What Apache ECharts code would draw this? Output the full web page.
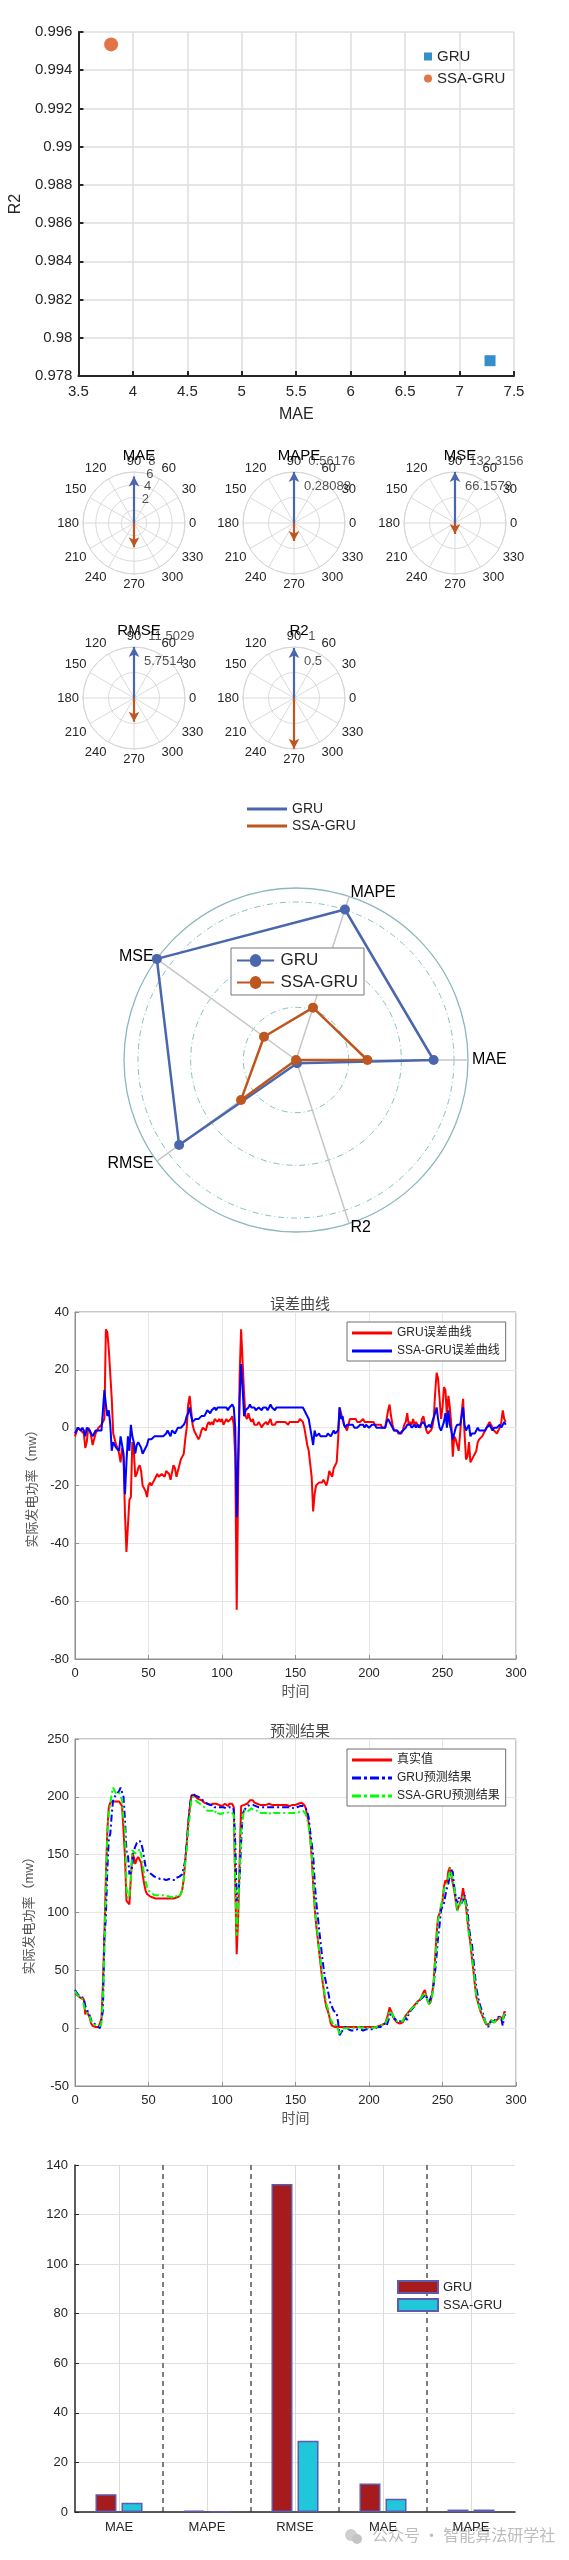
<!DOCTYPE html>
<html>
<head>
<meta charset="utf-8">
<title>GRU vs SSA-GRU</title>
<script src="https://cdn.jsdelivr.net/npm/echarts@6/dist/echarts.min.js"></script>
<style>
  body { margin: 0; background: #fff; }
  .panel { position: absolute; left: 0; width: 569px; }
</style>
</head>
<body>
<div id="scatter" class="panel" style="top:0;height:440px"></div>
<div id="compass" class="panel" style="top:440px;height:330px"></div>
<div id="radar" class="panel" style="top:780px;height:500px"></div>
<div id="error" class="panel" style="top:1280px;height:435px"></div>
<div id="pred" class="panel" style="top:1715px;height:420px"></div>
<div id="bars" class="panel" style="top:2140px;height:420px"></div>
<script>
  // metrics of the two models
  const metricNames = ['MAE', 'MAPE', 'MSE', 'RMSE', 'R2']
  const gruMetrics = [7.28, 0.56176, 132.3156, 11.5029, 0.9788]
  const ssaMetrics = [3.80, 0.198, 28.7, 5.357, 0.99535]
  // compass rings: outer value, step and the printed ring labels
  const ringMax = [8, 0.56176, 132.3156, 11.5029, 1]
  const ringStep = [2, 0.28088, 66.1578, 5.75145, 0.5]
  const ringTicks = [[2, 4, 6, 8], [0.28088, 0.56176], [66.1578, 132.3156], [5.7514, 11.5029], [0.5, 1]]
  // radar (normalised)
  const radarGru = [0.80, 0.92, 1.0, 0.84, 0.02]
  const radarSsa = [0.415, 0.32, 0.23, 0.395, 0.0]
  // bar chart
  const barCats = ['MAE', 'MAPE', 'RMSE', 'MAE', 'MAPE']
  const barGru = [7.2, 0.56, 132.3, 11.5, 0.98]
  const barSsa = [3.7, 0.2, 28.7, 5.36, 0.99]

  // error curves (true - predicted)
  const errGru = [-3,-3,0,0,-1,-1,-2,-7,-5,0,
    -1,-3,-6,-4,-2,-1,0,0,1,1,
    3,34,33,27,27,10,-2,-4,-6,-7,
    -9,-12,-7,-10,-30,-43,-43,-25,-24,-5,
    -8,-17,-16,-14,-13,-15,-20,-21,-22,-24,
    -20,-19,-20,-19,-18,-18,-16,-17,-17,-16,
    -16,-17,-15,-15,-16,-18,-18,-13,-14,-17,
    -17,-13,-11,-10,-9,-4,0,8,11,6,
    1,-1,-2,-3,-4,-3,-1,0,0,-1,
    1,2,1,2,1,3,3,2,3,2,
    3,1,2,3,2,2,3,4,1,-10,
    -63,-20,18,34,34,12,4,3,5,3,
    2,3,1,1,1,2,2,0,1,1,
    2,1,1,3,1,1,1,2,2,2,
    2,2,2,2,2,1,2,2,2,2,
    2,2,2,3,3,2,0,-3,-6,-8,
    -8,-17,-29,-23,-20,-20,-19,-19,-19,-18,
    -19,-20,-18,-15,-16,-17,-14,-13,-12,-4,
    7,5,3,1,0,-1,1,3,3,3,
    3,3,2,2,2,2,3,2,2,2,
    2,2,2,2,1,1,1,1,1,0,
    0,0,3,6,8,4,1,-1,-1,-1,
    -2,-2,-2,-1,1,2,5,1,2,1,
    3,1,2,1,1,0,3,4,4,-1,
    -2,-2,-1,0,3,12,19,17,10,3,
    7,14,13,4,11,7,1,-10,-3,-4,
    -6,-8,-2,5,10,-2,-11,-10,-5,-12,
    -12,-10,-9,-8,-5,-4,-4,-3,-3,-1,
    0,1,2,1,0,-1,-1,-2,-1,0,
    2,6,3,2]
  const errSsa = [-2,-1,0,0,-1,0,-1,-3,0,0,
    -1,-2,-3,-2,-1,-1,-1,-1,-1,-1,
    13,8,4,6,1,-8,-5,-6,-7,-7,
    -8,-3,-6,-9,-23,-12,-3,-8,1,-3,
    -5,-9,-6,-5,-6,-7,-9,-8,-8,-6,
    -4,-4,-4,-4,-3,-3,-3,-3,-3,-3,
    -3,-3,-2,-1,-2,-3,-1,-1,-2,-1,
    0,0,0,0,1,2,4,5,7,4,
    2,2,3,3,3,3,4,4,4,5,
    6,6,5,6,6,7,6,7,7,7,
    7,7,7,7,6,7,7,8,7,0,
    -31,-10,10,22,14,4,6,6,7,8,
    7,7,7,6,6,7,7,6,7,7,
    7,6,7,8,7,7,6,7,7,7,
    7,7,7,7,7,7,7,7,7,7,
    7,7,7,7,7,7,6,5,4,3,
    0,-3,-6,-1,-3,-3,-2,-3,-3,-3,
    -3,-3,-2,-2,-3,-3,-1,-2,-2,-1,
    7,3,4,1,0,1,1,1,1,1,
    0,0,0,0,1,1,1,0,1,1,
    0,0,1,1,1,0,0,0,0,0,
    0,0,2,3,3,1,0,-1,-1,-1,
    -1,-2,-2,-1,-1,0,1,1,1,0,
    0,1,0,1,0,1,1,2,2,0,
    0,1,0,2,2,5,7,3,0,-1,
    -1,2,5,0,6,1,-1,-4,-2,0,
    1,1,1,4,7,1,-1,0,1,-3,
    -2,-2,-2,-1,0,-1,-1,-1,-1,-1,
    0,0,1,0,-1,0,0,0,0,1,
    0,1,2,1]

  // prediction curves
  const realVals = [30,29,28,27,26,25,25,12,15,12,
    9,4,2,1,1,1,1,2,8,38,
    81,130,171,191,195,195,196,197,196,196,
    196,197,192,171,148,110,109,107,130,151,
    148,142,146,148,149,143,133,125,119,116,
    115,114,113,113,112,112,112,112,112,112,
    112,112,112,112,112,112,112,112,113,113,
    113,114,116,120,129,145,159,177,190,200,
    202,201,200,199,198,198,197,196,195,195,
    194,194,193,193,194,193,194,193,193,192,
    192,193,194,193,192,194,195,194,191,125,
    64,96,145,192,193,193,193,194,195,197,
    197,197,195,195,194,194,193,193,193,193,
    193,193,194,193,193,193,193,193,193,193,
    193,193,193,193,193,193,192,193,193,193,
    193,193,194,194,195,195,193,190,184,177,
    165,148,125,105,90,79,67,56,44,35,
    25,18,15,10,4,2,1,1,1,1,
    1,1,1,1,1,1,1,1,1,1,
    1,1,1,1,1,1,1,1,1,1,
    1,1,1,1,1,1,2,2,2,3,
    3,4,5,12,18,17,12,8,7,5,
    4,4,5,5,8,11,12,14,15,17,
    18,20,21,23,24,25,28,31,33,28,
    23,21,23,30,41,61,82,96,99,105,
    110,122,128,125,136,139,138,125,119,110,
    102,105,108,113,121,113,105,93,82,73,
    61,50,38,27,23,18,14,11,8,5,
    3,2,4,7,7,5,6,7,8,10,
    10,8,14,14]
  const gruPred = [33,32,29,28,27,26,26,19,17,13,
    11,7,6,4,3,2,1,0,1,15,
    78,96,138,164,168,185,198,200,202,203,
    205,208,204,200,180,153,150,133,135,140,
    153,157,160,161,162,160,155,147,140,137,
    135,134,133,132,131,130,130,130,129,129,
    129,129,128,128,129,130,128,127,128,130,
    130,131,132,133,134,145,160,175,190,200,
    203,202,201,200,200,199,198,197,196,195,
    194,193,193,192,193,191,191,191,191,191,
    190,191,191,190,190,191,191,191,189,160,
    110,115,130,160,185,188,190,192,192,193,
    194,193,192,192,191,191,191,191,190,191,
    191,191,191,191,191,191,191,191,191,191,
    191,191,191,191,191,191,191,191,191,190,
    191,191,191,192,192,192,192,190,187,182,
    170,160,150,128,110,99,86,75,63,53,
    44,38,33,26,20,18,15,14,13,5,
    -6,-4,-2,0,1,2,-1,-2,-2,-2,
    -2,-2,-1,-1,-1,-1,-2,-1,-1,-1,
    -1,-1,-1,-1,0,0,1,1,1,3,
    3,4,2,6,10,13,11,9,8,6,
    6,6,7,6,7,9,7,13,13,16,
    15,19,19,22,23,25,25,27,29,29,
    25,23,24,30,38,49,63,79,89,102,
    103,108,115,121,125,132,137,135,122,114,
    108,113,110,108,111,115,116,103,87,78,
    73,60,47,35,28,22,18,14,11,6,
    3,1,2,6,7,6,7,9,9,10,
    8,2,11,12]
  const ssaPred = [32,30,28,27,27,25,26,15,15,12,
    10,6,5,3,2,2,2,2,4,25,
    68,122,167,185,194,203,208,205,203,203,
    204,200,198,180,171,122,112,115,129,154,
    153,151,152,153,155,150,142,133,127,122,
    119,118,117,117,115,115,115,115,115,115,
    115,115,114,113,114,115,113,113,115,114,
    113,114,116,120,128,143,155,172,183,196,
    200,199,197,196,195,195,193,192,191,190,
    188,188,188,187,188,186,188,186,186,185,
    185,186,187,186,186,187,188,186,184,125,
    80,106,135,170,179,189,187,188,188,189,
    190,190,188,189,188,187,186,187,186,186,
    186,187,187,185,186,186,187,186,186,186,
    186,186,186,186,186,186,185,186,186,186,
    186,186,187,187,188,188,187,185,180,174,
    165,151,131,106,93,82,69,59,47,38,
    28,21,17,12,7,5,2,3,3,2,
    -6,-2,-3,0,1,0,0,0,0,0,
    1,1,1,1,0,0,0,1,0,0,
    1,1,0,0,0,1,2,2,2,3,
    3,4,3,9,15,16,12,9,8,6,
    5,6,7,6,9,11,11,13,14,17,
    18,19,21,22,24,24,27,29,31,28,
    23,20,23,28,39,56,75,93,99,106,
    111,120,123,125,130,138,139,129,121,110,
    101,104,107,109,114,112,106,93,81,76,
    63,52,40,28,23,19,15,12,9,6,
    3,2,3,7,8,5,6,7,8,9,
    10,7,12,13]

  const FONT = "'Liberation Sans', Arial, 'Noto Sans CJK SC', sans-serif"
  const INK = '#262626'
  const GRU_C = '#4A66AC'
  const SSA_C = '#BE561F'
  // legend glyphs: plain line, dash-dot line
  const SOLID_ICON = 'path://M0,0h40v3H0z'
  const DASHDOT_ICON = 'path://M0,0h9v3H0z M12,0h3v3h-3z M18,0h9v3h-9z M30,0h3v3h-3z M36,0h4v3h-4z'

  const withIndex = arr => arr.map((v, i) => [i, v])

  // ---------- scatter MAE vs R2 ----------
  const scatterChart = echarts.init(document.getElementById('scatter'))
  scatterChart.setOption({
    animation: false,
    textStyle: {fontFamily: FONT},
    grid: {left: 74, right: 55, top: 32, height: 344},
    legend: {
      orient: 'vertical', left: 419, top: 44, itemGap: 7,
      itemWidth: 8, itemHeight: 8,
      textStyle: {fontSize: 15, color: INK},
      data: [{name: 'GRU', icon: 'rect'}, {name: 'SSA-GRU', icon: 'circle'}]
    },
    xAxis: {
      type: 'value', min: 3.5, max: 7.5, interval: 0.5,
      name: 'MAE', nameLocation: 'middle', nameGap: 31,
      nameTextStyle: {fontSize: 16, color: INK},
      axisLine: {onZero: false, lineStyle: {color: INK, width: 2}},
      axisTick: {inside: true, length: 5, lineStyle: {color: INK, width: 2}},
      axisLabel: {fontSize: 15, color: INK, margin: 8},
      splitLine: {lineStyle: {color: '#dedede', width: 1.5}}
    },
    yAxis: {
      type: 'value', min: 0.978, max: 0.996, interval: 0.002,
      name: 'R2', nameLocation: 'middle', nameGap: 52,
      nameTextStyle: {fontSize: 16, color: INK},
      axisLine: {onZero: false, lineStyle: {color: INK, width: 2}},
      axisTick: {inside: true, length: 5, lineStyle: {color: INK, width: 2}},
      axisLabel: {fontSize: 15, color: INK, margin: 6},
      splitLine: {lineStyle: {color: '#dedede', width: 1.5}}
    },
    series: [
      {name: 'GRU', type: 'scatter', symbol: 'rect', symbolSize: 11,
        itemStyle: {color: '#0072BD'}, data: [[gruMetrics[0], gruMetrics[4]]]},
      {name: 'SSA-GRU', type: 'scatter', symbol: 'circle', symbolSize: 14,
        itemStyle: {color: '#D95319'}, data: [[ssaMetrics[0], ssaMetrics[4]]]}
    ]
  })

  // ---------- compass plots ----------
  const compassChart = echarts.init(document.getElementById('compass'))
  const centers = [[134, 83], [294, 83], [455, 83], [134, 258], [294, 258]]
  const polar = [], angleAxis = [], radiusAxis = [], cTitles = [], cSeries = []
  metricNames.forEach((name, i) => {
    const c = centers[i]
    polar.push({center: c, radius: 51})
    angleAxis.push({
      polarIndex: i, type: 'value', min: 0, max: 360, interval: 30,
      startAngle: 0, clockwise: false,
      axisLine: {lineStyle: {color: '#d6d6d6'}},
      axisTick: {show: false},
      axisLabel: {color: INK, fontSize: 13, margin: 4, formatter: v => (v === 360 ? '' : v)},
      splitLine: {lineStyle: {color: '#dadada'}}
    })
    radiusAxis.push({
      polarIndex: i, min: 0, max: ringMax[i], interval: ringStep[i],
      axisLine: {show: false}, axisTick: {show: false}, axisLabel: {show: false},
      splitLine: {lineStyle: {color: '#dadada'}}
    })
    cTitles.push({
      text: name, left: c[0], top: c[1] - 80, textAlign: 'center',
      textStyle: {fontSize: 15, fontWeight: 'normal', color: '#000', fontFamily: FONT}
    })
    cSeries.push({
      // ring value labels, set along the 80 degree ray like MATLAB's rticklabels
      type: 'scatter', coordinateSystem: 'polar', polarIndex: i, silent: true,
      symbolSize: 1, itemStyle: {color: 'transparent'},
      data: ringTicks[i].map(v => [v, 80]),
      label: {show: true, position: 'right', distance: 5, offset: [0, -11],
        color: INK, fontSize: 13, formatter: p => String(p.value[0])}
    }, {
      type: 'line', coordinateSystem: 'polar', polarIndex: i, silent: true,
      symbol: 'arrow', symbolSize: [8, 10], symbolRotate: 0,
      lineStyle: {color: GRU_C, width: 2.2}, itemStyle: {color: GRU_C},
      data: [{value: [0, 90], symbol: 'none'}, [gruMetrics[i], 90]]
    }, {
      type: 'line', coordinateSystem: 'polar', polarIndex: i, silent: true,
      symbol: 'arrow', symbolSize: [8, 10], symbolRotate: 180,
      lineStyle: {color: SSA_C, width: 2.2}, itemStyle: {color: SSA_C},
      data: [{value: [0, 270], symbol: 'none'}, [ssaMetrics[i], 270]]
    })
  })
  compassChart.setOption({
    animation: false,
    textStyle: {fontFamily: FONT},
    title: cTitles,
    polar: polar,
    angleAxis: angleAxis,
    radiusAxis: radiusAxis,
    series: cSeries
  })

  // ---------- radar ----------
  const radarChart = echarts.init(document.getElementById('radar'))
  const indicators = metricNames.map(n => ({name: n, max: 1}))
  radarChart.setOption({
    animation: false,
    textStyle: {fontFamily: FONT},
    legend: [{
      orient: 'vertical', left: 242, top: 17, itemGap: 3,
      itemWidth: 40, itemHeight: 3, icon: 'rect',
      textStyle: {fontSize: 14, color: INK},
      data: ['GRU', 'SSA-GRU']
    }, {
      orient: 'vertical', left: 231, top: 168, itemGap: 5,
      itemWidth: 40, itemHeight: 13,
      icon: 'path://M0,5 L14,5 A6,6 0 0 1 26,5 L40,5 L40,7 L26,7 A6,6 0 0 1 14,7 L0,7 Z',
      padding: [4, 6, 4, 6], borderColor: '#777', borderWidth: 1, backgroundColor: '#fff',
      textStyle: {fontSize: 17, color: INK},
      data: ['GRU', 'SSA-GRU']
    }],
    radar: [{
      center: [296, 280], radius: 158, startAngle: 0, shape: 'circle', splitNumber: 3,
      indicator: indicators, silent: true,
      axisName: {show: false}, axisLine: {show: false}, axisTick: {show: false},
      splitArea: {show: false},
      splitLine: {lineStyle: {color: '#86bfc2', width: 1, type: [6, 3, 1, 3]}}
    }, {
      center: [296, 280], radius: 172, startAngle: 0, shape: 'circle', splitNumber: 1,
      indicator: indicators, nameGap: 4,
      axisName: {color: '#000', fontSize: 16},
      axisLine: {lineStyle: {color: '#c6c6c6', width: 1.5}},
      splitArea: {show: false},
      splitLine: {lineStyle: {color: '#8bb8ba', width: 1.3}}
    }],
    series: [{
      type: 'radar', radarIndex: 1, symbol: 'circle', symbolSize: 10,
      data: [
        {name: 'GRU', value: radarGru, lineStyle: {color: GRU_C, width: 2.5}, itemStyle: {color: GRU_C}},
        {name: 'SSA-GRU', value: radarSsa, lineStyle: {color: SSA_C, width: 2.5}, itemStyle: {color: SSA_C}}
      ]
    }]
  })

  // shared pieces for the two time charts
  function timeXAxis() {
    return {
      type: 'value', min: 0, max: 300, interval: 50,
      name: '时间', nameLocation: 'middle', nameGap: 26,
      nameTextStyle: {fontSize: 14, color: '#555'},
      axisLine: {onZero: false, lineStyle: {color: '#8f8f8f'}},
      axisTick: {inside: true, length: 4, lineStyle: {color: '#8f8f8f'}},
      axisLabel: {fontSize: 13, color: INK, margin: 8},
      splitLine: {lineStyle: {color: '#e6e6e6'}}
    }
  }
  function powerYAxis(min, max, step) {
    return {
      type: 'value', min: min, max: max, interval: step,
      name: '实际发电功率（mw）', nameLocation: 'middle', nameGap: 34,
      nameTextStyle: {fontSize: 13, color: '#555'},
      axisLine: {onZero: false, lineStyle: {color: '#8f8f8f'}},
      axisTick: {inside: true, length: 4, lineStyle: {color: '#8f8f8f'}},
      axisLabel: {fontSize: 13, color: INK, margin: 6},
      splitLine: {lineStyle: {color: '#e6e6e6'}}
    }
  }
  const boxLegend = (top, items) => ({
    orient: 'vertical', left: 347, top: top, itemGap: 6,
    itemWidth: 40, itemHeight: 3,
    padding: [5, 6, 4, 5], borderColor: '#6e6e6e', borderWidth: 1, backgroundColor: '#fff',
    textStyle: {fontSize: 12, color: INK},
    data: items
  })

  // ---------- error curves ----------
  const errorChart = echarts.init(document.getElementById('error'))
  errorChart.setOption({
    animation: false,
    textStyle: {fontFamily: FONT},
    title: {text: '误差曲线', left: 295, top: 12, textAlign: 'center',
      textStyle: {fontSize: 15, fontWeight: 'normal', color: '#444'}},
    grid: {left: 75, right: 53, top: 32, height: 347, show: true, borderColor: '#8f8f8f', borderWidth: 1},
    legend: boxLegend(42, [
      {name: 'GRU误差曲线', icon: SOLID_ICON},
      {name: 'SSA-GRU误差曲线', icon: SOLID_ICON}
    ]),
    xAxis: timeXAxis(),
    yAxis: powerYAxis(-80, 40, 20),
    series: [
      {name: 'GRU误差曲线', type: 'line', symbol: 'none', data: withIndex(errGru),
        lineStyle: {color: '#ff0000', width: 2}, itemStyle: {color: '#ff0000'}},
      {name: 'SSA-GRU误差曲线', type: 'line', symbol: 'none', data: withIndex(errSsa),
        lineStyle: {color: '#0000ff', width: 2}, itemStyle: {color: '#0000ff'}}
    ]
  })

  // ---------- prediction curves ----------
  const predChart = echarts.init(document.getElementById('pred'))
  predChart.setOption({
    animation: false,
    textStyle: {fontFamily: FONT},
    title: {text: '预测结果', left: 295, top: 4, textAlign: 'center',
      textStyle: {fontSize: 15, fontWeight: 'normal', color: '#444'}},
    grid: {left: 75, right: 53, top: 24, height: 347, show: true, borderColor: '#8f8f8f', borderWidth: 1},
    legend: boxLegend(34, [
      {name: '真实值', icon: SOLID_ICON},
      {name: 'GRU预测结果', icon: DASHDOT_ICON},
      {name: 'SSA-GRU预测结果', icon: DASHDOT_ICON}
    ]),
    xAxis: timeXAxis(),
    yAxis: powerYAxis(-50, 250, 50),
    series: [
      {name: '真实值', type: 'line', symbol: 'none', data: withIndex(realVals),
        lineStyle: {color: '#ff0000', width: 2}, itemStyle: {color: '#ff0000'}},
      {name: 'GRU预测结果', type: 'line', symbol: 'none', data: withIndex(gruPred),
        lineStyle: {color: '#0000ff', width: 2, type: [7, 3, 2, 3]}, itemStyle: {color: '#0000ff'}},
      {name: 'SSA-GRU预测结果', type: 'line', symbol: 'none', data: withIndex(ssaPred),
        lineStyle: {color: '#00ff00', width: 2, type: [7, 3, 2, 3]}, itemStyle: {color: '#00ff00'}}
    ]
  })

  // ---------- grouped bars ----------
  const barChart = echarts.init(document.getElementById('bars'))
  barChart.setOption({
    animation: false,
    textStyle: {fontFamily: FONT},
    grid: {left: 75, right: 54, top: 25, height: 347},
    legend: {
      orient: 'vertical', left: 392, top: 135, itemGap: 4,
      itemWidth: 40, itemHeight: 12, icon: 'rect',
      textStyle: {fontSize: 13, color: INK}
    },
    xAxis: [{
      type: 'category', data: barCats,
      axisLine: {lineStyle: {color: INK, width: 1.5}},
      axisTick: {show: false},
      axisLabel: {fontSize: 13, color: INK, margin: 9},
      splitLine: {show: true, showMinLine: false, showMaxLine: false,
        lineStyle: {color: '#555', type: [5, 4], width: 1.5}}
    }, {
      type: 'value', min: 0, max: 10, interval: 1, position: 'bottom',
      axisLine: {show: false}, axisTick: {show: false}, axisLabel: {show: false},
      splitLine: {show: true, lineStyle: {color: ['transparent', '#dcdcdc'], width: 1}}
    }],
    yAxis: {
      type: 'value', min: 0, max: 140, interval: 20,
      axisLine: {show: true, lineStyle: {color: INK, width: 1.5}},
      axisTick: {show: true, inside: true, length: 4, lineStyle: {color: INK}},
      axisLabel: {fontSize: 13, color: INK, margin: 7},
      splitLine: {lineStyle: {color: '#e0e0e0'}}
    },
    series: [
      {name: 'GRU', type: 'bar', xAxisIndex: 0, data: barGru, barWidth: 21, barGap: '24%',
        itemStyle: {color: '#A61C1C', borderColor: '#5D5AB0', borderWidth: 1.5}},
      {name: 'SSA-GRU', type: 'bar', xAxisIndex: 0, data: barSsa, barWidth: 21, barGap: '24%',
        itemStyle: {color: '#20C6DA', borderColor: '#5D5AB0', borderWidth: 1.5}}
    ],
    graphic: [
      {type: 'circle', left: 345, top: 389, shape: {r: 6}, style: {fill: '#cfcfcf'}},
      {type: 'circle', left: 352, top: 394, shape: {r: 5}, style: {fill: '#c4c4c4'}},
      {type: 'text', left: 372, top: 387,
        style: {text: '公众号 · 智能算法研学社', fill: '#bdbdbd', font: "16px 'Noto Sans CJK SC'"}}
    ]
  })
</script>
</body>
</html>
